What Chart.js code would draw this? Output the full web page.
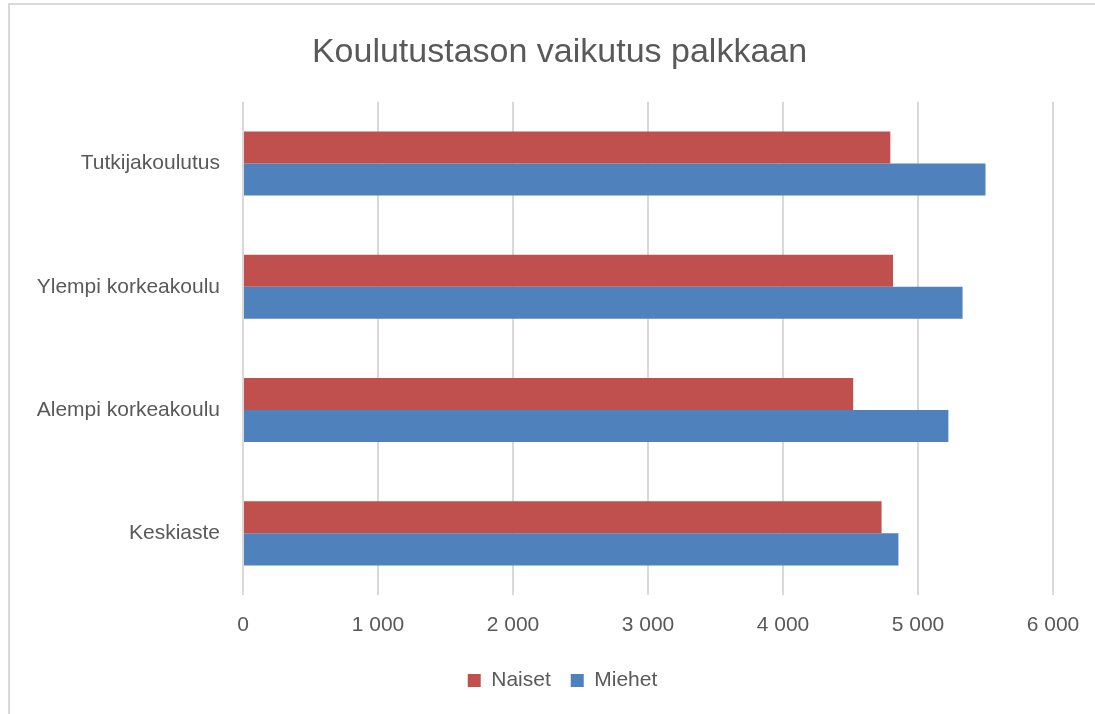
<!DOCTYPE html>
<html>
<head>
<meta charset="utf-8">
<script src="https://cdn.jsdelivr.net/npm/chart.js@4/dist/chart.umd.min.js"></script>
<style>
  html, body { margin: 0; padding: 0; background: #ffffff; }
  #wrap { position: relative; width: 1095px; height: 714px; }
</style>
</head>
<body>
<div id="wrap"><canvas id="c" width="1095" height="714"></canvas></div>
<script>
const chartTitle = 'Koulutustason vaikutus palkkaan';
const categories = ['Tutkijakoulutus', 'Ylempi korkeakoulu', 'Alempi korkeakoulu', 'Keskiaste'];
const seriesNames = ['Naiset', 'Miehet'];
const naiset = [4795, 4815, 4520, 4730];
const miehet = [5500, 5330, 5225, 4855];
const tickLabels = ['0', '1 000', '2 000', '3 000', '4 000', '5 000', '6 000'];

const textColor = '#595959';
const fontFamily = "'Liberation Sans', Arial, sans-serif";

const frame = {
  id: 'frame',
  beforeDraw(chart) {
    const ctx = chart.ctx;
    ctx.save();
    ctx.fillStyle = '#d9d9d9';
    ctx.fillRect(8, 3, 1087, 2);
    ctx.fillRect(8, 3, 2, 711);
    ctx.restore();
  }
};

// centre title and legend over the same band as in the original (not the whole canvas)
const recentre = {
  id: 'recentre',
  afterLayout(chart) {
    if (chart.titleBlock) { chart.titleBlock.left = 66; chart.titleBlock.right = 1053; }
    if (chart.legend) { chart.legend.left = 72; chart.legend.right = 1053; }
  }
};

new Chart(document.getElementById('c'), {
  type: 'bar',
  data: {
    labels: categories,
    datasets: [
      { label: seriesNames[0], data: naiset, backgroundColor: '#C0504D', borderColor: '#C0504D', borderWidth: 0 },
      { label: seriesNames[1], data: miehet, backgroundColor: '#4F81BD', borderColor: '#4F81BD', borderWidth: 0 }
    ]
  },
  options: {
    indexAxis: 'y',
    responsive: false,
    animation: false,
    layout: { padding: { left: 0, right: 42, top: 0, bottom: 13 } },
    datasets: { bar: { categoryPercentage: 0.52, barPercentage: 1.0 } },
    scales: {
      x: {
        min: 0, max: 6000,
        ticks: {
          stepSize: 1000,
          color: textColor,
          font: { family: fontFamily, size: 21 },
          padding: 18,
          callback: (v, i) => tickLabels[i]
        },
        grid: { color: '#d9d9d9', lineWidth: 2, drawTicks: false },
        border: { display: false },
        afterFit: (s) => { s.height = 55; s.paddingLeft = 0; s.paddingRight = 0; }
      },
      y: {
        ticks: {
          color: textColor,
          font: { family: fontFamily, size: 21 },
          padding: 15
        },
        grid: { display: false },
        border: { display: false },
        afterFit: (s) => { s.width = 243; }
      }
    },
    plugins: {
      title: {
        display: true,
        text: chartTitle,
        color: textColor,
        font: { family: fontFamily, size: 34, weight: 'normal' },
        padding: { top: 32, bottom: 29 }
      },
      legend: {
        position: 'bottom',
        labels: {
          color: textColor,
          font: { family: fontFamily, size: 21 },
          boxWidth: 13, boxHeight: 13,
          padding: 20
        }
      },
      tooltip: { enabled: false }
    }
  },
  plugins: [frame, recentre]
});
</script>
</body>
</html>
